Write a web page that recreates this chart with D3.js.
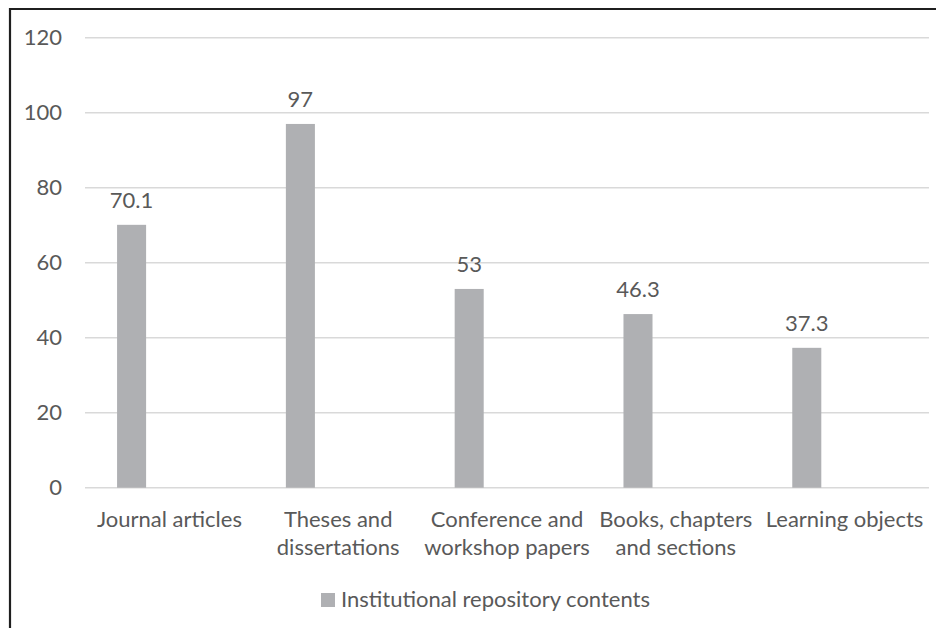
<!DOCTYPE html>
<html>
<head>
<meta charset="utf-8">
<script src="https://cdn.jsdelivr.net/npm/d3@7"></script>
<style>
  html, body { margin: 0; padding: 0; background: #fff; }
  svg { display: block; }
  text { font-family: Lato, "Open Sans", sans-serif; fill: #595959; }
</style>
</head>
<body>
<svg id="chart" width="936" height="628"></svg>
<script>
// Institutional repository contents by type (%)
const categories = [
  ["Journal articles"],
  ["Theses and", "dissertations"],
  ["Conference and", "workshop papers"],
  ["Books, chapters", "and sections"],
  ["Learning objects"]
];
const values = [70.1, 97, 53, 46.3, 37.3];
const valueLabels = ["70.1", "97", "53", "46.3", "37.3"];
const yTicks = [0, 20, 40, 60, 80, 100, 120];
const seriesName = "Institutional repository contents";

const W = 936, H = 628;
const plot = { left: 85, right: 929, top: 37.7, bottom: 487.7 };
const fontSize = 22;
const barColor = "#afb0b3";

const svg = d3.select("#chart");

// outer frame (left and top edges visible)
svg.append("path")
  .attr("d", `M10,${H} L10,9 L${W},9`)
  .attr("fill", "none")
  .attr("stroke", "#1f1f1f")
  .attr("stroke-width", 2.2);

const x = d3.scaleBand()
  .domain(d3.range(categories.length))
  .range([plot.left, plot.right])
  .paddingInner(0).paddingOuter(0);

const y = d3.scaleLinear()
  .domain([0, 120])
  .range([plot.bottom, plot.top]);

// bars sit at a fixed offset inside each category band
const barOffset = x.bandwidth() * 0.19;
const barWidth = x.bandwidth() * 0.172;

// gridlines
svg.append("g")
  .selectAll("line")
  .data(yTicks)
  .join("line")
  .attr("x1", plot.left).attr("x2", plot.right)
  .attr("y1", d => y(d)).attr("y2", d => y(d))
  .attr("stroke", "#d9d9d9")
  .attr("stroke-width", 1.5);

// y tick labels
svg.append("g")
  .selectAll("text")
  .data(yTicks)
  .join("text")
  .attr("x", 62)
  .attr("y", d => y(d))
  .attr("dy", "0.35em")
  .attr("text-anchor", "end")
  .attr("font-size", fontSize)
  .text(d => d);

// bars
svg.append("g")
  .selectAll("rect")
  .data(values)
  .join("rect")
  .attr("x", (d, i) => x(i) + barOffset)
  .attr("width", barWidth)
  .attr("y", d => y(d))
  .attr("height", d => y(0) - y(d))
  .attr("fill", barColor);

// value labels
svg.append("g")
  .selectAll("text")
  .data(values)
  .join("text")
  .attr("x", (d, i) => x(i) + barOffset + barWidth / 2)
  .attr("y", d => y(d) - 17)
  .attr("text-anchor", "middle")
  .attr("font-size", fontSize)
  .text((d, i) => valueLabels[i]);

// category labels
const cat = svg.append("g")
  .selectAll("text")
  .data(categories)
  .join("text")
  .attr("x", (d, i) => x(i) + x.bandwidth() / 2)
  .attr("y", 527)
  .attr("text-anchor", "middle")
  .attr("font-size", fontSize);
cat.selectAll("tspan")
  .data(d => d)
  .join("tspan")
  .attr("x", function () { return d3.select(this.parentNode).attr("x"); })
  .attr("dy", (d, i) => i === 0 ? 0 : 28)
  .text(d => d);

// legend
const legend = svg.append("g").attr("transform", "translate(321,593)");
legend.append("rect")
  .attr("width", 14).attr("height", 14)
  .attr("fill", barColor);
legend.append("text")
  .attr("x", 20).attr("y", 14)
  .attr("font-size", fontSize)
  .text(seriesName);
</script>
</body>
</html>
